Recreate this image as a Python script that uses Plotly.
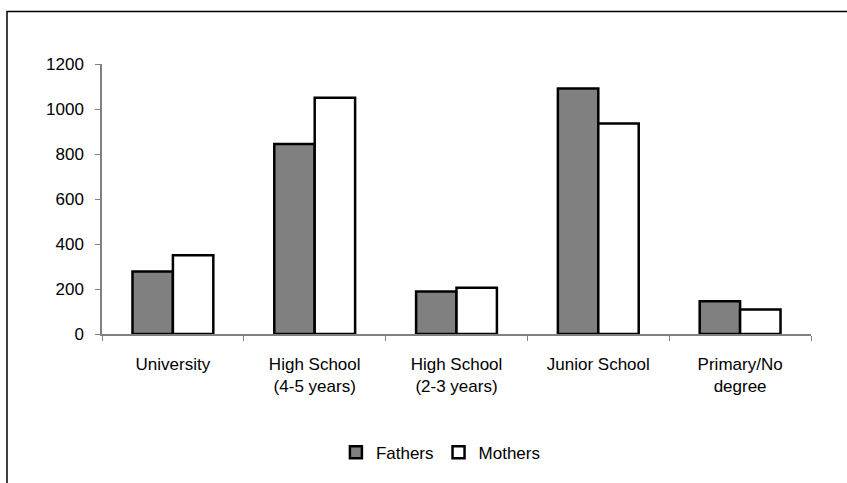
import plotly.graph_objects as go

categories = ["University", "High School<br>(4-5 years)", "High School<br>(2-3 years)",
              "Junior School", "Primary/No<br>degree"]
fathers = [278, 844, 189, 1091, 146]
mothers = [350, 1050, 206, 936, 109]
y_ticks = [0, 200, 400, 600, 800, 1000, 1200]

W, H = 847, 483
L, R, T, B = 102, 36, 64, 147
pw, ph = W - L - R, H - T - B

fig = go.Figure()
fig.add_trace(go.Bar(name="Fathers", x=categories, y=fathers,
                     marker=dict(color="#808080", line=dict(color="black", width=2.5))))
fig.add_trace(go.Bar(name="Mothers", x=categories, y=mothers,
                     marker=dict(color="white", line=dict(color="black", width=2.5))))

# chart-area frame: left and top edges visible, right and bottom run off the page
fig.update_layout(
    width=W, height=H,
    margin=dict(l=L, r=R, t=T, b=B),
    plot_bgcolor="white", paper_bgcolor="white",
    barmode="group", bargap=0.43, bargroupgap=0,
    font=dict(family="Liberation Sans, Arial", size=17, color="black"),
    legend=dict(orientation="h", x=0.478, y=-0.44, xanchor="center", yanchor="middle",
                font=dict(size=17), itemwidth=30, tracegroupgap=0),
    shapes=[dict(type="rect", xref="paper", yref="paper",
                 x0=(7 - L) / pw, x1=(W + 20 - L) / pw,
                 y0=(T + ph - (H + 20)) / ph, y1=(T + ph - 11) / ph,
                 line=dict(color="black", width=1.5))],
)
fig.update_xaxes(showline=True, linecolor="#808080", linewidth=1.5,
                 ticks="outside", tickson="boundaries", ticklen=5, tickcolor="#808080",
                 showgrid=False, ticklabelstandoff=14)
fig.update_yaxes(range=[0, 1200], tickvals=y_ticks, showline=True, linecolor="#808080",
                 linewidth=1.5, ticks="outside", ticklen=5, tickcolor="#808080",
                 showgrid=False, zeroline=False, ticklabelstandoff=8)

# drop the default page margin so the chart sits at the window corner
fig.write_html("out.html", config={"displayModeBar": False},
               post_script="document.body.style.margin='0';")
